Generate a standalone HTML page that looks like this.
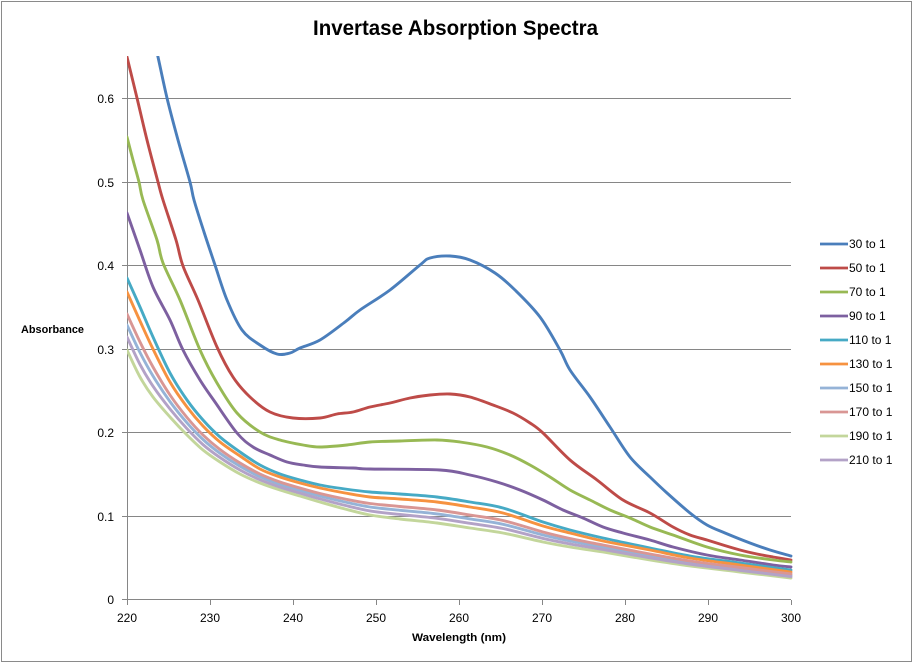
<!DOCTYPE html>
<html><head><meta charset="utf-8"><style>
html,body{margin:0;padding:0;background:#fff;}
svg{display:block;}
text{font-family:"Liberation Sans",Arial,sans-serif;fill:#000;}
</style></head><body>
<svg id="ch" width="913" height="663" viewBox="0 0 913 663" xmlns="http://www.w3.org/2000/svg">
<rect x="0" y="0" width="913" height="663" fill="#fff"/>
<rect x="1.5" y="1.5" width="910" height="660" fill="none" stroke="#8a8a8a" stroke-width="1"/>
<text x="313" y="35" font-size="21" font-weight="bold" textLength="285" lengthAdjust="spacingAndGlyphs">Invertase Absorption Spectra</text>
<g stroke="#868686" stroke-width="1">
<line x1="127" y1="98.5" x2="791" y2="98.5"/>
<line x1="127" y1="182.5" x2="791" y2="182.5"/>
<line x1="127" y1="265.5" x2="791" y2="265.5"/>
<line x1="127" y1="349.5" x2="791" y2="349.5"/>
<line x1="127" y1="432.5" x2="791" y2="432.5"/>
<line x1="127" y1="516.5" x2="791" y2="516.5"/>
<line x1="127" y1="599.5" x2="791" y2="599.5"/>
<line x1="127.5" y1="57" x2="127.5" y2="600"/>
<line x1="122" y1="98.5" x2="127" y2="98.5"/>
<line x1="122" y1="182.5" x2="127" y2="182.5"/>
<line x1="122" y1="265.5" x2="127" y2="265.5"/>
<line x1="122" y1="349.5" x2="127" y2="349.5"/>
<line x1="122" y1="432.5" x2="127" y2="432.5"/>
<line x1="122" y1="516.5" x2="127" y2="516.5"/>
<line x1="122" y1="599.5" x2="127" y2="599.5"/>
<line x1="127.5" y1="600" x2="127.5" y2="605"/>
<line x1="210.5" y1="600" x2="210.5" y2="605"/>
<line x1="293.5" y1="600" x2="293.5" y2="605"/>
<line x1="376.5" y1="600" x2="376.5" y2="605"/>
<line x1="459.5" y1="600" x2="459.5" y2="605"/>
<line x1="542.5" y1="600" x2="542.5" y2="605"/>
<line x1="625.5" y1="600" x2="625.5" y2="605"/>
<line x1="708.5" y1="600" x2="708.5" y2="605"/>
<line x1="791.5" y1="600" x2="791.5" y2="605"/>
</g>
<g font-size="12" text-anchor="end">
<text x="114" y="103">0.6</text>
<text x="114" y="187">0.5</text>
<text x="114" y="270">0.4</text>
<text x="114" y="354">0.3</text>
<text x="114" y="437">0.2</text>
<text x="114" y="521">0.1</text>
<text x="114" y="604">0</text>
</g>
<g font-size="12" text-anchor="middle">
<text x="127" y="622">220</text>
<text x="210" y="622">230</text>
<text x="293" y="622">240</text>
<text x="376" y="622">250</text>
<text x="459" y="622">260</text>
<text x="542" y="622">270</text>
<text x="625" y="622">280</text>
<text x="708" y="622">290</text>
<text x="791" y="622">300</text>
</g>
<text x="412" y="641" font-size="11" font-weight="bold" textLength="94" lengthAdjust="spacingAndGlyphs">Wavelength (nm)</text>
<text x="21" y="333" font-size="11" font-weight="bold" textLength="63" lengthAdjust="spacingAndGlyphs">Absorbance</text>

<defs><clipPath id="pc"><rect x="127" y="56" width="666" height="545"/></clipPath></defs>
<g id="series" clip-path="url(#pc)" fill="none" stroke-width="2.9" stroke-linejoin="round" stroke-linecap="round">
<polyline stroke="#4A7EBB" points="156,50 158,57 167,98 178,140 190,182 194,200 204,232 215,265 227,300 242,330 260,345 277,354 290,353 300,348 320,340 345,322 360,310 390,290 420,265 430,258 450,256 470,260 495,273 515,290 540,317 560,350 570,370 590,397 610,427 630,457 650,477 667,493 690,513 707,525 725,533 750,543 770,550 791,556"/>
<polyline stroke="#BE4B48" points="126,52 127,57 137,98 147,140 158,182 163,200 176,240 183,266 198,300 217,347 233,377 250,397 270,412 293,418 320,418 337,414 353,412 370,407 390,403 410,398 430,395 450,394 470,397 493,405 513,413 530,423 543,433 570,460 597,480 623,500 650,513 673,527 690,535 707,540 723,545 740,550 757,554 773,557 791,560"/>
<polyline stroke="#98B954" points="127,137 133,160 139,182 143,200 157,240 163,263 180,300 200,350 217,383 237,413 260,432 280,440 303,445 320,447 347,445 370,442 400,441 437,440 460,442 487,447 510,455 530,465 550,477 570,490 590,500 610,510 630,518 650,527 673,535 707,547 740,555 773,560 791,562"/>
<polyline stroke="#7D60A0" points="127,213 140,250 153,287 170,320 183,350 200,380 215,402 237,433 253,447 270,455 287,462 303,465 320,467 353,468 370,469 440,470 470,475 497,482 520,490 543,500 563,510 583,518 603,527 623,533 650,540 673,547 707,555 740,560 773,565 791,567"/>
<polyline stroke="#46AAC5" points="127,278 140,307 153,337 170,373 187,400 203,420 220,437 240,452 260,465 280,474 300,480 320,485 345,489 370,492 400,494 437,497 470,502 503,508 543,522 570,530 603,538 650,548 690,556 740,563 791,570"/>
<polyline stroke="#F69240" points="127,292 140,321 153,349 170,382 187,407 203,426 220,442 240,456 260,469 280,477 300,483 320,488 345,493 370,497 400,499 437,502 470,507 503,513 543,526 570,533 603,541 650,550 690,558 740,565 791,572"/>
<polyline stroke="#95B3D7" points="127,325 140,352.5 153,376 170,401.6 187,422.8 203,439.5 220,453.3 240,466.3 260,476.7 280,484.4 300,490.4 320,496 345,502 370,507 400,510.3 437,513.9 470,518.9 503,524.3 543,535 570,541 603,547 650,555.8 690,562.5 740,568.9 791,575.2"/>
<polyline stroke="#D99694" points="127,314 140,342 153,367 170,395 187,417.5 203,435 220,449.5 240,463 260,474 280,482 300,488 320,493.5 345,499 370,503.5 400,506.5 437,510 470,515 503,520.5 543,532 570,538.5 603,545 650,554 690,561 740,567.5 791,574"/>
<polyline stroke="#C3D69B" points="127,350 140,377 153,397 170,417 187,435 203,450 220,462 240,474 260,483 280,490 300,496 320,502 345,509 370,515 400,519 437,523 470,528 503,533 543,542 570,547 603,552 650,560 690,566 740,572 791,578"/>
<polyline stroke="#B3A2C7" points="127,337 140,364.4 153,386.2 170,409 187,428.7 203,444.6 220,457.5 240,470 260,479.8 280,487.1 300,493.1 320,498.9 345,505.4 370,510.9 400,514.5 437,518.3 470,523.3 503,528.5 543,538.4 570,543.9 603,549.5 650,557.8 690,564.2 740,570.4 791,576.6"/>
</g>

<g stroke-width="2.8" fill="none">
<line x1="820" y1="244" x2="848" y2="244" stroke="#4A7EBB"/>
<line x1="820" y1="268" x2="848" y2="268" stroke="#BE4B48"/>
<line x1="820" y1="292" x2="848" y2="292" stroke="#98B954"/>
<line x1="820" y1="316" x2="848" y2="316" stroke="#7D60A0"/>
<line x1="820" y1="340" x2="848" y2="340" stroke="#46AAC5"/>
<line x1="820" y1="364" x2="848" y2="364" stroke="#F69240"/>
<line x1="820" y1="388" x2="848" y2="388" stroke="#95B3D7"/>
<line x1="820" y1="412" x2="848" y2="412" stroke="#D99694"/>
<line x1="820" y1="436" x2="848" y2="436" stroke="#C3D69B"/>
<line x1="820" y1="460" x2="848" y2="460" stroke="#B3A2C7"/>
</g>
<g font-size="12">
<text x="849" y="248">30 to 1</text>
<text x="849" y="272">50 to 1</text>
<text x="849" y="296">70 to 1</text>
<text x="849" y="320">90 to 1</text>
<text x="849" y="344">110 to 1</text>
<text x="849" y="368">130 to 1</text>
<text x="849" y="392">150 to 1</text>
<text x="849" y="416">170 to 1</text>
<text x="849" y="440">190 to 1</text>
<text x="849" y="464">210 to 1</text>
</g>
</svg>
<script>
(function(){
  var g=document.getElementById('series');
  var pls=g.querySelectorAll('polyline');
  var NS='http://www.w3.org/2000/svg';
  for(var i=0;i<pls.length;i++){
    var pl=pls[i];
    var raw=pl.getAttribute('points').trim().split(/\s+/);
    var p=raw.map(function(s){var a=s.split(',');return [parseFloat(a[0]),parseFloat(a[1])];});
    var d='M'+p[0][0]+','+p[0][1];
    for(var k=0;k<p.length-1;k++){
      var p0=p[k>0?k-1:k],p1=p[k],p2=p[k+1],p3=p[k+2<p.length?k+2:k+1];
      var t=1/6;
      var c1x=p1[0]+(p2[0]-p0[0])*t,c1y=p1[1]+(p2[1]-p0[1])*t;
      var c2x=p2[0]-(p3[0]-p1[0])*t,c2y=p2[1]-(p3[1]-p1[1])*t;
      d+=' C'+c1x.toFixed(2)+','+c1y.toFixed(2)+' '+c2x.toFixed(2)+','+c2y.toFixed(2)+' '+p2[0]+','+p2[1];
    }
    var path=document.createElementNS(NS,'path');
    path.setAttribute('d',d);
    path.setAttribute('stroke',pl.getAttribute('stroke'));
    g.replaceChild(path,pl);
  }
})();
</script>
</body></html>
